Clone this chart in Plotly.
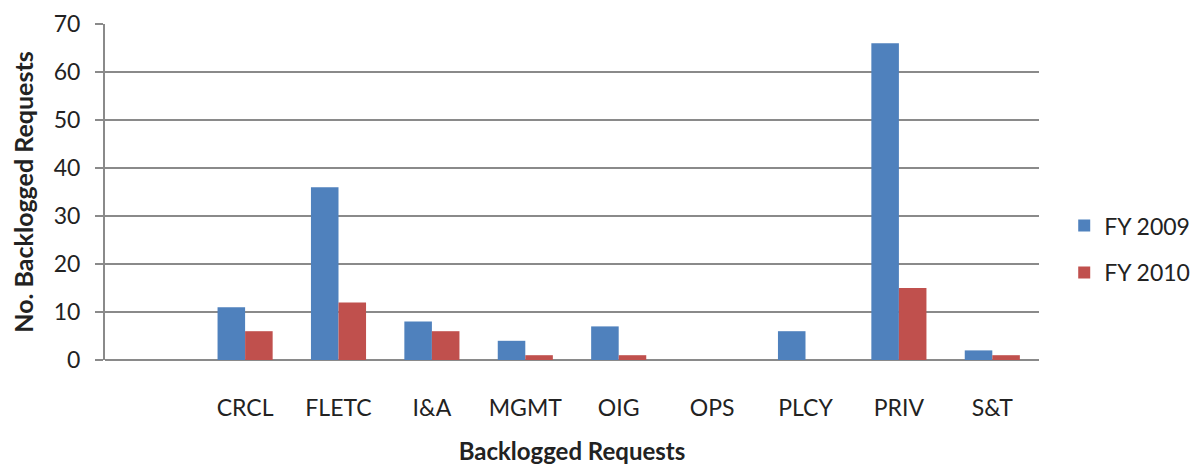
import plotly.graph_objects as go

categories = [" ", "CRCL", "FLETC", "I&A", "MGMT", "OIG", "OPS", "PLCY", "PRIV", "S&T"]
fy2009 = [None, 11, 36, 8, 4, 7, 0, 6, 66, 2]
fy2010 = [None, 6, 12, 6, 1, 1, 0, 0, 15, 1]

font_family = "Lato, 'Open Sans', sans-serif"
grid = "#8a8a8a"

fig = go.Figure()
fig.add_trace(go.Bar(x=categories, y=fy2009, name="FY 2009", legendgroup="a",
                     marker_color="#4F81BD", marker_line_width=0))
fig.add_trace(go.Bar(x=categories, y=fy2010, name="FY 2010", legendgroup="b",
                     marker_color="#C0504D", marker_line_width=0))

# page body adds an 8px offset; figure sized to fit the window
fig.update_layout(
    width=1183, height=457,
    margin=dict(l=97, r=152, t=16, b=105, autoexpand=False),
    paper_bgcolor="white", plot_bgcolor="white",
    barmode="group", bargap=0.41, bargroupgap=0,
    font=dict(family=font_family, size=23, color="#222"),
    legend=dict(x=1.027, y=0.33, xanchor="left", yanchor="middle",
                font=dict(size=23), tracegroupgap=14, itemwidth=30),
    showlegend=True,
)
fig.update_xaxes(
    type="category", categoryorder="array", categoryarray=categories,
    showgrid=False, showline=False, ticks="", zeroline=False, automargin=False,
    ticklabelstandoff=32,
    title=dict(text="<b>Backlogged Requests</b>", font=dict(size=24), standoff=28),
)
fig.update_yaxes(
    range=[0, 70], dtick=10, showgrid=True, gridcolor=grid, gridwidth=2,
    showline=True, linecolor=grid, linewidth=2, automargin=False,
    ticks="outside", ticklen=8, tickcolor=grid, tickwidth=2,
    zeroline=True, zerolinecolor=grid, zerolinewidth=2,
    ticklabelstandoff=10, ticklabeloverflow="allow",
    title=dict(text="<b>No. Backlogged Requests</b>", font=dict(size=25), standoff=22),
)
fig.write_html("out.html")
